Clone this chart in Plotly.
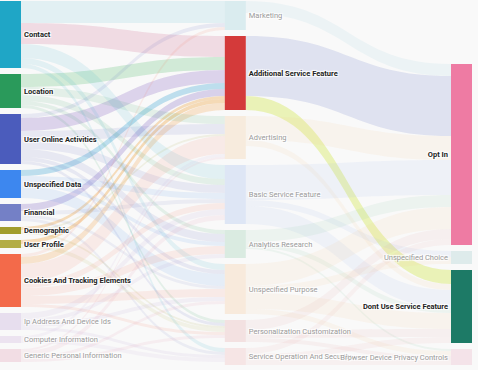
import plotly.graph_objects as go

# ---------------- data ----------------
left_nodes = ["Contact", "Location", "User Online Activities", "Unspecified Data", "Financial",
              "Demographic", "User Profile", "Cookies And Tracking Elements",
              "Ip Address And Device Ids", "Computer Information", "Generic Personal Information"]
mid_nodes = ["Marketing", "Additional Service Feature", "Advertising", "Basic Service Feature",
             "Analytics Research", "Unspecified Purpose", "Personalization Customization",
             "Service Operation And Security"]
right_nodes = ["Opt In", "Unspecified Choice", "Dont Use Service Feature",
               "Browser Device Privacy Controls"]

link_source = [
    "Contact", "Location", "User Online Activities", "Unspecified Data", "Financial", "Demographic", "User Profile", "Cookies And Tracking Elements",
    "Contact", "Contact", "Contact", "Contact",
    "Location", "Location", "Location", "Location",
    "User Online Activities", "User Online Activities", "User Online Activities", "User Online Activities", "User Online Activities", "User Online Activities",
    "Unspecified Data", "Unspecified Data", "Unspecified Data",
    "Financial", "Financial", "Financial",
    "Demographic", "Demographic",
    "User Profile",
    "Cookies And Tracking Elements", "Cookies And Tracking Elements", "Cookies And Tracking Elements", "Cookies And Tracking Elements", "Cookies And Tracking Elements", "Cookies And Tracking Elements",
    "Ip Address And Device Ids", "Ip Address And Device Ids", "Ip Address And Device Ids", "Ip Address And Device Ids",
    "Computer Information", "Computer Information",
    "Generic Personal Information", "Generic Personal Information", "Generic Personal Information", "Generic Personal Information",
    "Additional Service Feature", "Additional Service Feature",
    "Marketing",
    "Advertising", "Advertising",
    "Basic Service Feature", "Basic Service Feature", "Basic Service Feature",
    "Analytics Research", "Analytics Research", "Analytics Research",
    "Unspecified Purpose", "Unspecified Purpose", "Unspecified Purpose", "Unspecified Purpose",
    "Personalization Customization", "Personalization Customization", "Personalization Customization",
    "Service Operation And Security", "Service Operation And Security", "Service Operation And Security",
]
link_target = [
    "Additional Service Feature", "Additional Service Feature", "Additional Service Feature", "Additional Service Feature", "Additional Service Feature", "Additional Service Feature", "Additional Service Feature", "Additional Service Feature",
    "Marketing", "Basic Service Feature", "Unspecified Purpose", "Service Operation And Security",
    "Advertising", "Basic Service Feature", "Analytics Research", "Personalization Customization",
    "Marketing", "Advertising", "Basic Service Feature", "Analytics Research", "Unspecified Purpose", "Personalization Customization",
    "Basic Service Feature", "Unspecified Purpose", "Analytics Research",
    "Basic Service Feature", "Service Operation And Security", "Unspecified Purpose",
    "Advertising", "Personalization Customization",
    "Personalization Customization",
    "Advertising", "Analytics Research", "Basic Service Feature", "Unspecified Purpose", "Personalization Customization", "Marketing",
    "Basic Service Feature", "Analytics Research", "Unspecified Purpose", "Service Operation And Security",
    "Advertising", "Service Operation And Security",
    "Advertising", "Basic Service Feature", "Unspecified Purpose", "Personalization Customization",
    "Opt In", "Dont Use Service Feature",
    "Opt In",
    "Opt In", "Dont Use Service Feature",
    "Opt In", "Dont Use Service Feature", "Unspecified Choice",
    "Opt In", "Dont Use Service Feature", "Browser Device Privacy Controls",
    "Opt In", "Dont Use Service Feature", "Unspecified Choice", "Browser Device Privacy Controls",
    "Opt In", "Dont Use Service Feature", "Browser Device Privacy Controls",
    "Opt In", "Dont Use Service Feature", "Browser Device Privacy Controls",
]
link_value = [
    21, 13, 13, 6, 7, 3, 4, 7,
    22, 14, 6, 4,
    8, 6, 4, 3,
    4, 10, 8, 8, 4, 3,
    6, 12, 4,
    4, 3, 3,
    2, 2,
    4,
    18, 8, 6, 8, 3, 3,
    6, 4, 4, 3,
    3, 4,
    2, 5, 3, 3,
    60, 14,
    12,
    24, 6,
    35, 18, 6,
    12, 5, 2,
    22, 16, 7, 5,
    10, 8, 4,
    6, 6, 5,
]
focus_node = "Additional Service Feature"

# ---------------- styles ----------------
base_color = {
    "Contact": (31, 166, 198), "Location": (42, 154, 91), "User Online Activities": (75, 92, 188),
    "Unspecified Data": (61, 135, 239), "Financial": (116, 128, 198), "Demographic": (161, 157, 44),
    "User Profile": (179, 173, 69), "Cookies And Tracking Elements": (243, 106, 74),
    "Ip Address And Device Ids": (181, 143, 208), "Computer Information": (198, 163, 216),
    "Generic Personal Information": (224, 138, 166),
    "Marketing": (127, 201, 212), "Additional Service Feature": (212, 58, 58),
    "Advertising": (245, 196, 138), "Basic Service Feature": (143, 176, 234),
    "Analytics Research": (127, 194, 154), "Unspecified Purpose": (247, 192, 137),
    "Personalization Customization": (227, 154, 154), "Service Operation And Security": (238, 170, 170),
    "Opt In": (238, 123, 163), "Unspecified Choice": (143, 197, 197),
    "Dont Use Service Feature": (29, 122, 102), "Browser Device Privacy Controls": (231, 163, 189),
}
focus_link_color = {
    ("Contact", focus_node): "rgba(225,170,192,0.38)",
    ("Location", focus_node): "rgba(160,215,172,0.45)",
    ("User Online Activities", focus_node): "rgba(185,165,218,0.45)",
    ("Unspecified Data", focus_node): "rgba(130,195,225,0.50)",
    ("Financial", focus_node): "rgba(175,160,215,0.45)",
    ("Demographic", focus_node): "rgba(240,185,110,0.45)",
    ("User Profile", focus_node): "rgba(240,180,100,0.45)",
    ("Cookies And Tracking Elements", focus_node): "rgba(245,195,140,0.40)",
    (focus_node, "Opt In"): "rgba(190,198,228,0.45)",
    (focus_node, "Dont Use Service Feature"): "rgba(222,236,130,0.55)",
}

all_nodes = left_nodes + mid_nodes + right_nodes
idx = {n: i for i, n in enumerate(all_nodes)}

highlight = {focus_node}
for s, t in zip(link_source, link_target):
    if s == focus_node:
        highlight.add(t)
    if t == focus_node:
        highlight.add(s)

def rgba(c, a):
    return f"rgba({c[0]},{c[1]},{c[2]},{a})"

node_colors = [rgba(base_color[n], 1 if n in highlight else 0.25) for n in all_nodes]
node_labels = [f"<b>{n}</b>" if n in highlight else f"<span style='color:#9a9a9a'>{n}</span>"
               for n in all_nodes]

link_colors = []
for s, t in zip(link_source, link_target):
    if (s, t) in focus_link_color:
        link_colors.append(focus_link_color[(s, t)])
    else:
        link_colors.append(rgba(base_color[s], 0.1))

# ---------------- layout: stack nodes per column from their values ----------------
W, H = 478, 370
ml, mr, mt, mb = 0, 6, 1, 5
PW, PH = W - ml - mr, H - mt - mb
pad = 6
thick = 21

node_val = {}
for n in all_nodes:
    vin = sum(v for s, t, v in zip(link_source, link_target, link_value) if t == n)
    vout = sum(v for s, t, v in zip(link_source, link_target, link_value) if s == n)
    node_val[n] = max(vin, vout)

columns = [left_nodes, mid_nodes, right_nodes]
ky = min((PH - (len(c) - 1) * pad) / sum(node_val[n] for n in c) for c in columns)
col_x = [thick / 2 / PW, 0.4985, 1 - thick / 2 / PW]
col_align = ["top", "top", "bottom"]

node_x = [0] * len(all_nodes)
node_y = [0] * len(all_nodes)
for ci, col in enumerate(columns):
    total = sum(node_val[n] for n in col) * ky + (len(col) - 1) * pad
    y = 0 if col_align[ci] == "top" else PH - total
    for n in col:
        h = node_val[n] * ky
        node_x[idx[n]] = col_x[ci]
        node_y[idx[n]] = (y + h / 2) / PH
        y += h + pad

fig = go.Figure(go.Sankey(
    arrangement="fixed",
    node=dict(
        label=node_labels,
        color=node_colors,
        x=node_x,
        y=node_y,
        pad=pad,
        thickness=thick,
        line=dict(width=0),
    ),
    link=dict(
        source=[idx[s] for s in link_source],
        target=[idx[t] for t in link_target],
        value=link_value,
        color=link_colors,
    ),
    textfont=dict(family="Roboto", size=7.5, color="#222222"),
    hoverinfo="none",
))

fig.update_layout(
    width=W, height=H,
    margin=dict(l=ml, r=mr, t=mt, b=mb),
    paper_bgcolor="#f9f9f9",
    plot_bgcolor="#f9f9f9",
)

fig.write_html("out.html", config={"displayModeBar": False},
               post_script="document.body.style.margin='0';")
